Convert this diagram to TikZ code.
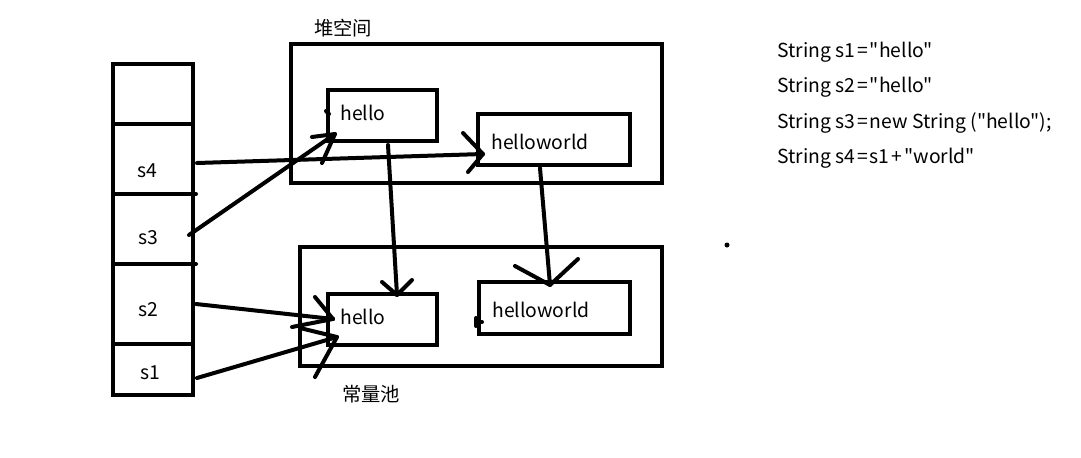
\documentclass[tikz,border=0pt]{standalone}
\usepackage{fontspec}
\setmainfont{Noto Sans CJK SC}[Ligatures=TeXOff]
\newcommand\eqs{\kern1.5pt=\kern1.5pt}
\newcommand\pls{\kern1.5pt+\kern1.5pt}
\begin{document}
\begin{tikzpicture}[x=0.75pt,y=-0.75pt,
  every node/.style={inner sep=0pt},
  box/.style={draw, line width=3pt, rectangle},
  txt/.style={font=\fontsize{14.5}{17}\selectfont},
  stroke/.style={line width=3pt, line cap=round, line join=round}]
\useasboundingbox (0,0) rectangle (1081,457);
% stack
\node[box, minimum width=60pt, minimum height=45pt] (c0) at (153,94) {};
\node[box, minimum width=60pt, minimum height=52.5pt] (c4) at (153,159) {};
\node[box, minimum width=60pt, minimum height=52.5pt] (c3) at (153,229) {};
\node[box, minimum width=60pt, minimum height=60pt] (c2) at (153,304) {};
\node[box, minimum width=60pt, minimum height=38.25pt] (c1) at (153,369.5) {};
\node[txt] (t4) at (147,171) {s4};
\node[txt] (t3) at (148,238) {s3};
\node[txt] (t2) at (148,310) {s2};
\node[txt] (t1) at (150,373) {s1};
% heap
\node[box, minimum width=278.25pt, minimum height=104.25pt] (heap) at (476.5,113.5) {};
\node[txt] (heaplbl) at (343,28) {堆空间};
\node[box, minimum width=81.75pt, minimum height=38.25pt] (hh) at (382.5,115.5) {};
\node[txt, anchor=west] (hhT) at (340,113) {hello};
\node[box, minimum width=114pt, minimum height=38.25pt] (hw) at (554,139.5) {};
\node[txt, anchor=west] (hwT) at (491,142) {helloworld};
% pool
\node[box, minimum width=271.5pt, minimum height=89.25pt] (pool) at (481,306.5) {};
\node[txt] (poollbl) at (371,394) {常量池};
\node[box, minimum width=81.75pt, minimum height=38.25pt] (ph) at (382.5,319.5) {};
\node[txt, anchor=west] (phT) at (340,317) {hello};
\node[box, minimum width=113.25pt, minimum height=39pt] (pw) at (554.5,308) {};
\node[txt, anchor=west] (pwT) at (492,310) {helloworld};
% code
\node[txt, anchor=west] (l1) at (777,52) {String s1\eqs"hello"};
\node[txt, anchor=west] (l2) at (777,87) {String s2\eqs"hello"};
\node[txt, anchor=west] (l3) at (777,123) {String s3\eqs new String ("hello");};
\node[txt, anchor=west] (l4) at (777,158) {String s4\eqs s1\pls"world"};
% connector end points
\coordinate (s4o) at (197,163);
\coordinate (hwi) at (483,154);
\coordinate (s3o) at (189,235);
\coordinate (hhi) at (335,134);
\coordinate (hho) at (388,145);
\coordinate (phi) at (397,295);
\coordinate (hwo) at (540,168);
\coordinate (pwi) at (550,285);
\coordinate (s2o) at (196,304);
\coordinate (ph2) at (333,319);
\coordinate (s1o) at (197,378);
\coordinate (ph1) at (337,337);
% connectors
\draw[stroke] (s4o) -- (hwi);
\draw[stroke] (463,133) -- (hwi) -- (468,172);
\draw[stroke] (s3o) -- (hhi);
\draw[stroke] (312,137) -- (hhi) -- (322,163);
\draw[stroke] (hho) -- (phi);
\draw[stroke] (382,282) -- (phi) -- (412,280);
\draw[stroke] (hwo) -- (pwi);
\draw[stroke] (515,266) -- (pwi) -- (578,259);
\draw[stroke] (s2o) -- (ph2);
\draw[stroke] (315,297) -- (ph2);
\draw[stroke] (292,327) -- (ph2);
\draw[stroke] (s1o) -- (ph1);
\draw[stroke] (300,328) -- (ph1) -- (315,377);
% small marks
\draw[stroke] (326,111) -- (329,114);
\draw[stroke] (193,194) -- (196,194);
\draw[stroke] (193,264) -- (196,264);
\draw[stroke] (476,322) -- (482,322);
\draw[stroke] (476,318) -- (476,326);
\fill (727,245) circle (2.5);
\end{tikzpicture}
\end{document}
